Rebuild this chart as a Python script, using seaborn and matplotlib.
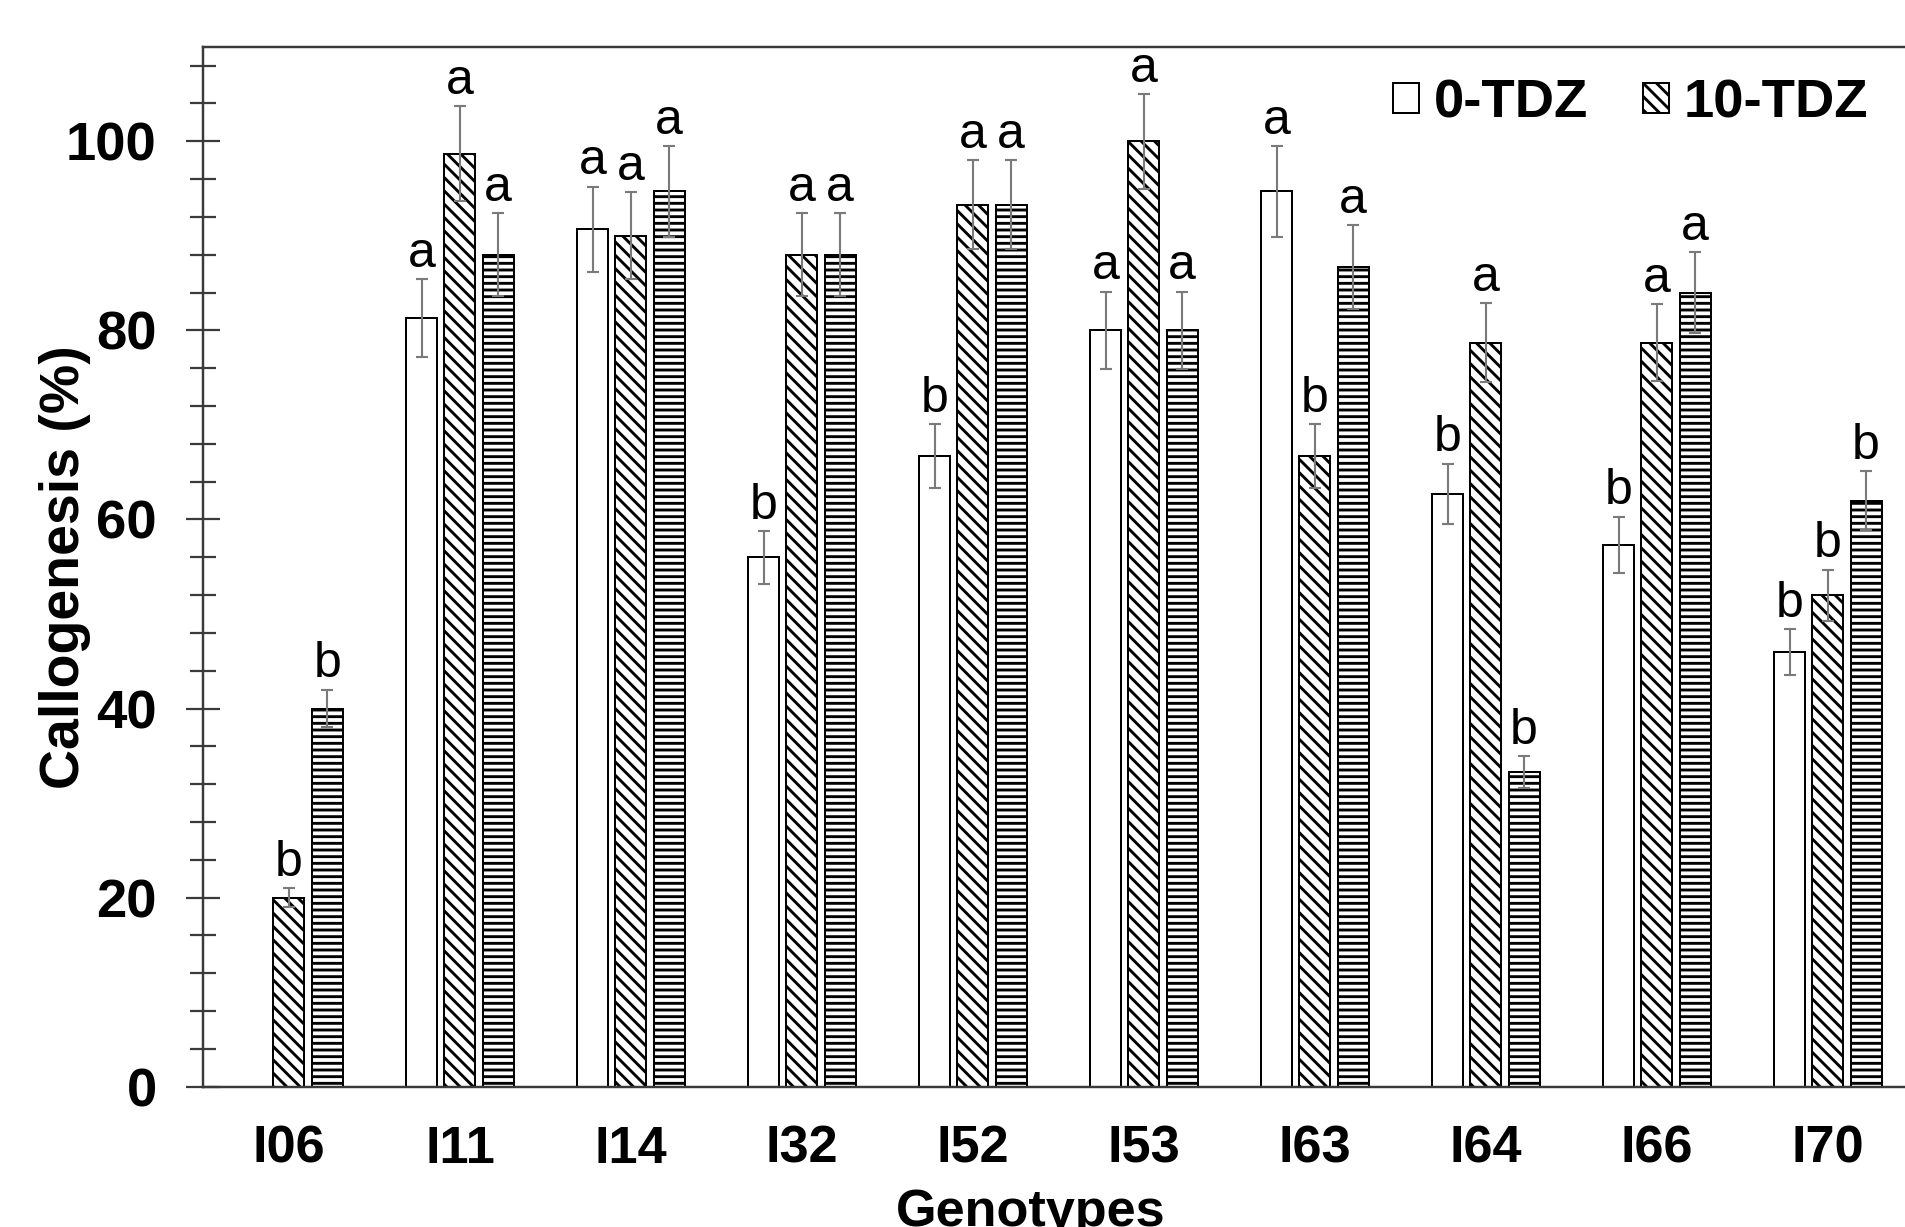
import numpy as np
import pandas as pd
import seaborn as sns
import matplotlib.pyplot as plt
from matplotlib.patches import Patch

genotypes = ['I06', 'I11', 'I14', 'I32', 'I52', 'I53', 'I63', 'I64', 'I66', 'I70']
treatments = ['0-TDZ', '10-TDZ', '20-TDZ']

v0 = [0, 81.3, 90.7, 56.0, 66.7, 80.0, 94.7, 62.7, 57.3, 46.0]
v10 = [20.0, 98.7, 90.0, 88.0, 93.3, 100.0, 66.7, 78.7, 78.7, 52.0]
v20 = [40.0, 88.0, 94.7, 88.0, 93.3, 80.0, 86.7, 33.3, 84.0, 62.0]

e0 = [0, 4.1, 4.5, 2.8, 3.4, 4.1, 4.8, 3.2, 3.0, 2.4]
e10 = [1.0, 5.0, 4.6, 4.4, 4.7, 5.0, 3.4, 4.2, 4.1, 2.7]
e20 = [2.0, 4.4, 4.8, 4.4, 4.7, 4.1, 4.4, 1.7, 4.3, 3.1]

l0 = ['', 'a', 'a', 'b', 'b', 'a', 'a', 'b', 'b', 'b']
l10 = ['b', 'a', 'a', 'a', 'a', 'a', 'b', 'a', 'a', 'b']
l20 = ['b', 'a', 'a', 'a', 'a', 'a', 'a', 'b', 'a', 'b']

hatches = ['', '\\\\', '--']

plt.rcParams['font.family'] = ['Liberation Sans', 'DejaVu Sans']
plt.rcParams['hatch.linewidth'] = 2.6
plt.rcParams['hatch.color'] = 'black'

df = pd.DataFrame({
    'Genotype': genotypes * 3,
    'Callogenesis': v0 + v10 + v20,
    'Treatment': np.repeat(treatments, len(genotypes)),
})

fig = plt.figure(figsize=(1905 / 80, 1227 / 80), dpi=80)
ax = fig.add_axes([0.1068, 0.1143, 0.8976, 0.8476])

sns.barplot(data=df, x='Genotype', y='Callogenesis', hue='Treatment',
            palette=['white'] * 3, saturation=1, width=0.672, gap=0.19,
            edgecolor='black', linewidth=1.8, errorbar=None, legend=False, ax=ax)

spine_col = '#3a3a3a'
for cont, h, vals, errs, letters in zip(ax.containers, hatches,
                                        [v0, v10, v20], [e0, e10, e20],
                                        [l0, l10, l20]):
    xs = []
    for bar in cont:
        bar.set_hatch(h)
        xs.append(bar.get_x() + bar.get_width() / 2)
    xs = np.array(xs)
    vals = np.array(vals)
    errs = np.array(errs)
    m = vals > 0
    ax.errorbar(xs[m], vals[m], yerr=errs[m], fmt='none', ecolor='#7a7a7a',
                elinewidth=1.9, capsize=5.4, capthick=1.9, zorder=5)
    for x, v, e, t in zip(xs, vals, errs, letters):
        if t:
            ax.annotate(t, (x, v + e), xytext=(0, 11), textcoords='offset points',
                        ha='center', va='baseline', fontsize=45)

ax.set_xlim(-0.5, 9.5)
ax.set_ylim(0, 110)
ax.set_yticks(range(0, 101, 20))
ax.set_yticks(range(0, 110, 4), minor=True)

for s in ['top', 'left', 'right', 'bottom']:
    ax.spines[s].set_color(spine_col)
    ax.spines[s].set_linewidth(2.2)

ax.tick_params(axis='y', which='major', direction='inout', length=30, width=2,
               color=spine_col, pad=27, labelsize=49)
ax.tick_params(axis='y', which='minor', direction='inout', length=23, width=2,
               color=spine_col)
ax.tick_params(axis='x', length=0, pad=34, labelsize=47)
for lab in ax.get_yticklabels() + ax.get_xticklabels():
    lab.set_fontweight('bold')

ax.set_ylabel('Callogenesis (%)', fontsize=50, fontweight='bold')
ax.yaxis.set_label_coords(-0.066, 0.5)
ax.set_xlabel('Genotypes', fontsize=47, fontweight='bold', va='top')
ax.xaxis.set_label_coords(0.484, -0.0974)

handles = [Patch(facecolor='white', edgecolor='black', linewidth=1.8, hatch=h, label=t)
           for h, t in zip(hatches, treatments)]
fig.legend(handles=handles, loc='center left', bbox_to_anchor=(0.7312, 0.916),
           ncol=3, frameon=False, borderpad=0, borderaxespad=0,
           handlelength=0.48, handleheight=0.48, handletextpad=0.27,
           columnspacing=1.0, prop={'weight': 'bold', 'size': 49})

fig.savefig('out.png', dpi=80)
